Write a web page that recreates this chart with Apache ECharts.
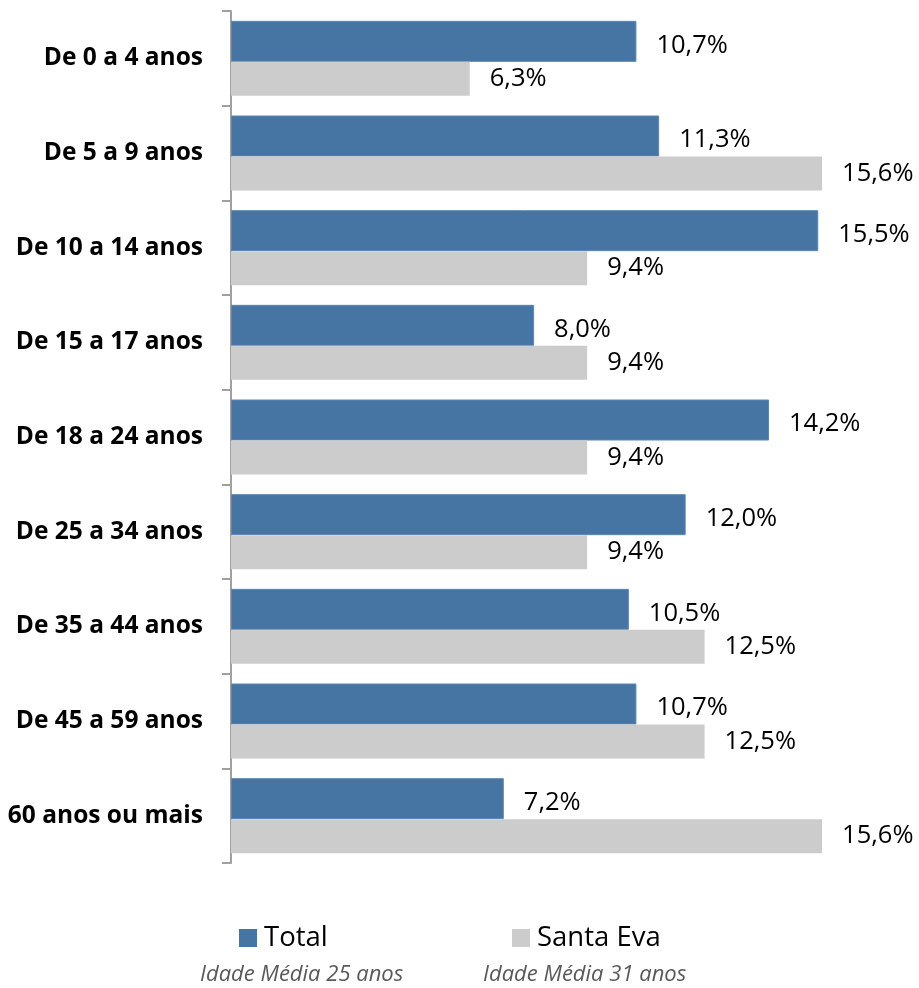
<!DOCTYPE html>
<html>
<head>
<meta charset="utf-8">
<script src="https://cdn.jsdelivr.net/npm/echarts@6/dist/echarts.min.js"></script>
<style>
html,body{margin:0;padding:0;background:#fff;}
#chart{width:919px;height:988px;}
</style>
</head>
<body>
<div id="chart"></div>
<script>
var categories = ['De 0 a 4 anos','De 5 a 9 anos','De 10 a 14 anos','De 15 a 17 anos','De 18 a 24 anos','De 25 a 34 anos','De 35 a 44 anos','De 45 a 59 anos','60 anos ou mais'];
var totalValues = [10.7, 11.3, 15.5, 8.0, 14.2, 12.0, 10.5, 10.7, 7.2];
var santaEvaValues = [6.3, 15.6, 9.4, 9.4, 9.4, 9.4, 12.5, 12.5, 15.6];
var seriesNames = ['Total', 'Santa Eva'];
var subtitles = ['Idade Média 25 anos', 'Idade Média 31 anos'];

var FONT = '"Open Sans", sans-serif';
function fmt(p){ return p.value.toFixed(1).replace('.', ',') + '%'; }

var chart = echarts.init(document.getElementById('chart'), null, {renderer:'canvas'});
var legendText = {fontSize: 27.5, fontFamily: FONT, color: '#000', padding: [0,0,0,2]};
chart.setOption({
  animation: false,
  backgroundColor: '#ffffff',
  grid: {left: 231, right: 6, top: 11, bottom: 125},
  xAxis: {type: 'value', min: 0, max: 18, show: false},
  yAxis: {
    type: 'category', data: categories, inverse: true,
    axisLine: {show: true, lineStyle: {color: '#a0a0a0', width: 2}},
    axisTick: {show: true, length: 9, lineStyle: {color: '#a0a0a0', width: 2}},
    axisLabel: {color: '#000', fontWeight: 'bold', fontSize: 24.5, fontFamily: FONT, margin: 28, padding: [7,0,0,0]}
  },
  legend: [
    {data: [seriesNames[0]], left: 234, top: 919, itemWidth: 18, itemHeight: 18,
     icon: 'rect', itemStyle: {borderWidth: 0}, textStyle: legendText},
    {data: [seriesNames[1]], left: 507, top: 919, itemWidth: 18, itemHeight: 18,
     icon: 'rect', itemStyle: {borderWidth: 0}, textStyle: legendText}
  ],
  graphic: [
    {type: 'text', left: 200, top: 964, style: {text: subtitles[0], fill: '#595959', font: 'italic 22px "Open Sans", sans-serif'}},
    {type: 'text', left: 483, top: 964, style: {text: subtitles[1], fill: '#595959', font: 'italic 22px "Open Sans", sans-serif'}}
  ],
  series: [
    {name: seriesNames[0], type: 'bar', data: totalValues, barWidth: 41, barGap: '0%',
     itemStyle: {color: '#4674a3', borderColor: '#5c86b3', borderWidth: 1},
     label: {show: true, position: 'right', distance: 20, offset: [0, 4], formatter: fmt, color: '#000', fontSize: 25.5, fontFamily: FONT}},
    {name: seriesNames[1], type: 'bar', data: santaEvaValues, barWidth: 34, barGap: '0%',
     itemStyle: {color: '#cccccc'},
     label: {show: true, position: 'right', distance: 20, formatter: fmt, color: '#000', fontSize: 25.5, fontFamily: FONT}}
  ]
});
</script>
</body>
</html>
